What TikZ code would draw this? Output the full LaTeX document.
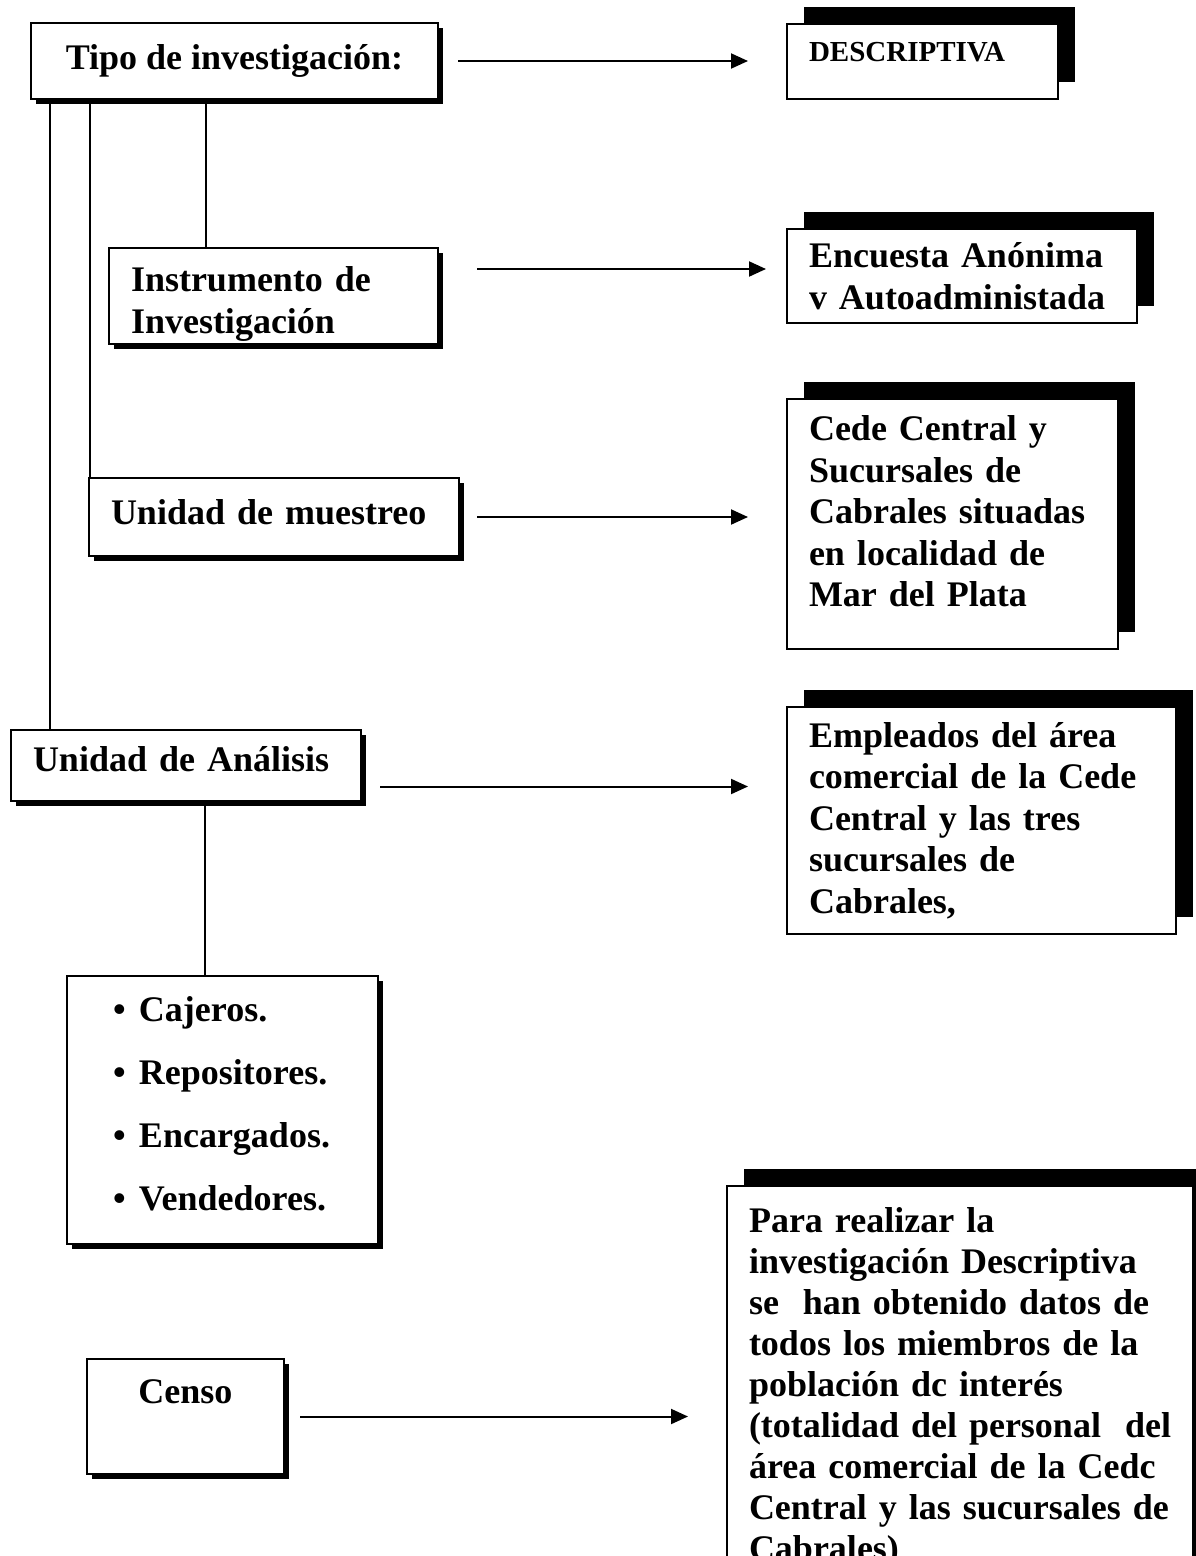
\documentclass[tikz,border=0pt]{standalone}
\usepackage{fontspec}
\setmainfont{Liberation Serif}
\usetikzlibrary{arrows.meta,shadows}
\newcommand{\bigtext}{\bfseries\fontsize{36}{41.5}\selectfont}
\newcommand{\bul}[1]{\hspace*{24pt}\makebox[26pt][l]{•}#1}
\begin{document}
\begin{tikzpicture}[x=1pt,y=-1pt,
    framebox/.style={draw,line width=2pt,fill=white,anchor=north west,
      inner xsep=22pt,inner ysep=0pt,align=left,font=\bigtext},
    leftbox/.style={framebox,drop shadow={shadow xshift=5pt,shadow yshift=-5pt,fill=black,opacity=1}},
    rightbox/.style={framebox,drop shadow={shadow xshift=17pt,shadow yshift=17pt,fill=black,opacity=1}},
    arr/.style={-{Triangle[length=17pt,width=15pt]},line width=2pt},
    link/.style={line width=1.8pt}]%
  \useasboundingbox (0,0) rectangle (1196,1556);%
  \clip (0,0) rectangle (1196,1556);%
  % left column
  \node[leftbox,minimum width=407pt,minimum height=76pt,align=center] (tipo) at (30,22) {Tipo de investigación:};%
  \node[leftbox,text width=285pt,minimum height=96pt] (instr) at (108,247) {\rule{0pt}{41pt}Instrumento de\\Investigación};%
  \node[leftbox,text width=326pt,minimum height=78pt,text height=25pt,text depth=11pt] (mues) at (88,477) {Unidad de muestreo};%
  \node[leftbox,text width=306pt,minimum height=71pt,text height=25pt,text depth=14pt] (anal) at (10,729) {Unidad de Análisis};%
  \node[leftbox,text width=267pt,minimum height=268pt,font=\bfseries\fontsize{36}{63}\selectfont] (list) at (66,975)
    {\bul{Cajeros.}\\\bul{Repositores.}\\\bul{Encargados.}\\\bul{Vendedores.}\rule[-14pt]{0pt}{14pt}};%
  \node[leftbox,minimum width=197pt,minimum height=115pt,align=center,text height=25pt,text depth=52pt] (cens) at (86,1358) {Censo};%
  % right column
  \node[rightbox,text width=227pt,minimum height=75pt,text height=20pt,text depth=20pt,
    font=\bfseries\fontsize{29}{34}\selectfont] (desc) at (786,23) {DESCRIPTIVA};%
  \node[rightbox,text width=306pt,minimum height=94pt] (enc) at (786,228) {Encuesta Anónima\\v Autoadministada};%
  \node[rightbox,text width=287pt,minimum height=250pt] (cede) at (786,398)
    {Cede Central y\\Sucursales de\\Cabrales situadas\\en localidad de\\Mar del Plata\rule[-25pt]{0pt}{25pt}};%
  \node[rightbox,text width=345pt,minimum height=227pt] (emp) at (786,706)
    {Empleados del área\\comercial de la Cede\\Central y las tres\\sucursales de\\Cabrales,};%
  \node[rightbox,text width=422pt,inner ysep=22pt,font=\bfseries\fontsize{36}{41}\selectfont] (para) at (726,1185)
    {Para realizar la\\investigación Descriptiva\\se\ \ han obtenido datos de\\todos los miembros de la\\población dc interés\\\mbox{(totalidad del personal\ \ del}\\área comercial de la Cedc\\Central y las sucursales de\\Cabrales)};%
  % arrows
  \draw[arr,shorten <=19pt,shorten >=38pt] (tipo.east) -- (tipo.east -| desc.west);%
  \coordinate (encin) at ([yshift=7pt]enc.west);%
  \draw[arr,shorten <=38pt,shorten >=20pt] (encin -| instr.east) -- (encin);%
  \draw[arr,shorten <=17pt,shorten >=38pt] (mues.east) -- (mues.east -| cede.west);%
  \coordinate (analout) at ([yshift=-21pt]anal.east);%
  \draw[arr,shorten <=18pt,shorten >=38pt] (analout) -- (analout -| emp.west);%
  \draw[arr,shorten <=15pt,shorten >=38pt] (cens.east) -- (cens.east -| para.west);%
  % links
  \coordinate (tipoA) at ([xshift=20pt]tipo.south west);%
  \coordinate (tipoB) at ([xshift=60pt]tipo.south west);%
  \coordinate (instrtop) at ([xshift=98pt]instr.north west);%
  \coordinate (listtop) at ([xshift=139pt]list.north west);%
  \draw[link] (tipoA) -- (tipoA |- anal.north);%
  \draw[link] (tipoB) -- (tipoB |- mues.north);%
  \draw[link] (instrtop) -- (instrtop |- tipo.south);%
  \draw[link] (listtop) -- (listtop |- anal.south);%
\end{tikzpicture}
\end{document}
